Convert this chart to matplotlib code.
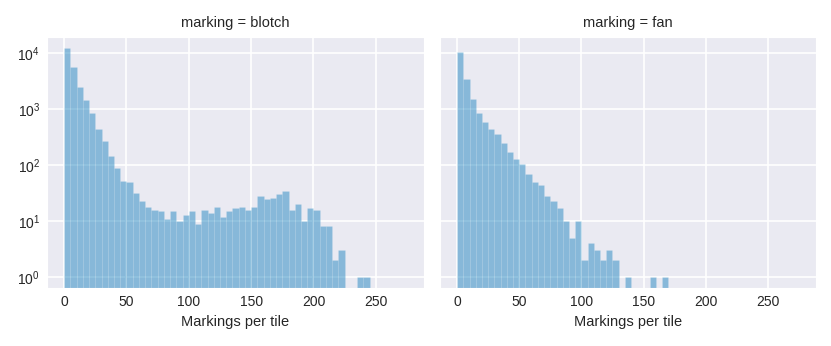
import numpy as np
import matplotlib
matplotlib.use("Agg")
import matplotlib.pyplot as plt
import seaborn as sns

sns.set_style("darkgrid")
plt.rcParams['font.family'] = ['Liberation Sans', 'DejaVu Sans']
plt.rcParams['mathtext.default'] = 'regular'

bin_width = 5
bin_starts = list(range(0, 275, 5))

blotch_counts = [12300, 5600, 2500, 1470, 860, 440, 270, 147, 88, 52,
                 50, 32, 23, 18, 16, 15, 11, 15, 10, 13,
                 15, 9, 16, 14, 18, 12, 15, 17, 18, 16,
                 18, 28, 25, 26, 31, 34, 16, 20, 10, 17,
                 16, 8, 8, 2, 3, 0, 0, 1, 1, 0,
                 0, 0, 0, 0, 0]
fan_counts = [10500, 3400, 1500, 860, 590, 450, 365, 247, 172, 130,
              103, 68, 49, 45, 28, 23, 17, 10, 5, 10,
              2, 4, 3, 2, 3, 2, 0, 1, 0, 0,
              0, 1, 0, 1, 0, 0, 0, 0, 0, 0,
              0, 0, 0, 0, 0, 0, 0, 0, 0, 0,
              0, 0, 0, 0, 0]

panels = [("blotch", blotch_counts), ("fan", fan_counts)]
xticks = [0, 50, 100, 150, 200, 250]
yticks = [1, 10, 100, 1000, 10000]
ytick_labels = [r'$10^{0}$', r'$10^{1}$', r'$10^{2}$', r'$10^{3}$', r'$10^{4}$']

fig = plt.figure(figsize=(8.31, 3.46), dpi=100)
axes = [fig.add_axes([0.0566, 0.1676, 0.4537, 0.7254]),
        fig.add_axes([0.5295, 0.1676, 0.4525, 0.7254])]

face = (0.149, 0.533, 0.761, 0.5)
edge = (1, 1, 1, 0.12)

for i, (ax, (name, counts)) in enumerate(zip(axes, panels)):
    xs = [s for s, c in zip(bin_starts, counts) if c > 0]
    hs = [c for c in counts if c > 0]
    ax.bar(xs, hs, width=bin_width, align='edge', color=face,
           edgecolor=edge, linewidth=0.5)
    ax.set_yscale('log')
    ax.set_xlim(-13.75, 288.75)
    ax.set_ylim(10 ** -0.197, 10 ** 4.29)
    ax.set_xticks(xticks)
    ax.set_xticklabels([str(t) for t in xticks], fontsize=10)
    ax.set_yticks(yticks)
    ax.yaxis.set_minor_locator(matplotlib.ticker.NullLocator())
    if i == 0:
        ax.set_yticklabels(ytick_labels, fontsize=10)
    else:
        ax.set_yticklabels([])
    ax.tick_params(axis='both', length=0, pad=5)
    ax.set_xlabel("Markings per tile", fontsize=10.5, labelpad=4)
    ax.set_title(f"marking = {name}", fontsize=10.5, pad=7)
    ax.grid(True, color='white', linewidth=1.2)
    ax.set_axisbelow(True)

fig.savefig("out.png", dpi=100)
